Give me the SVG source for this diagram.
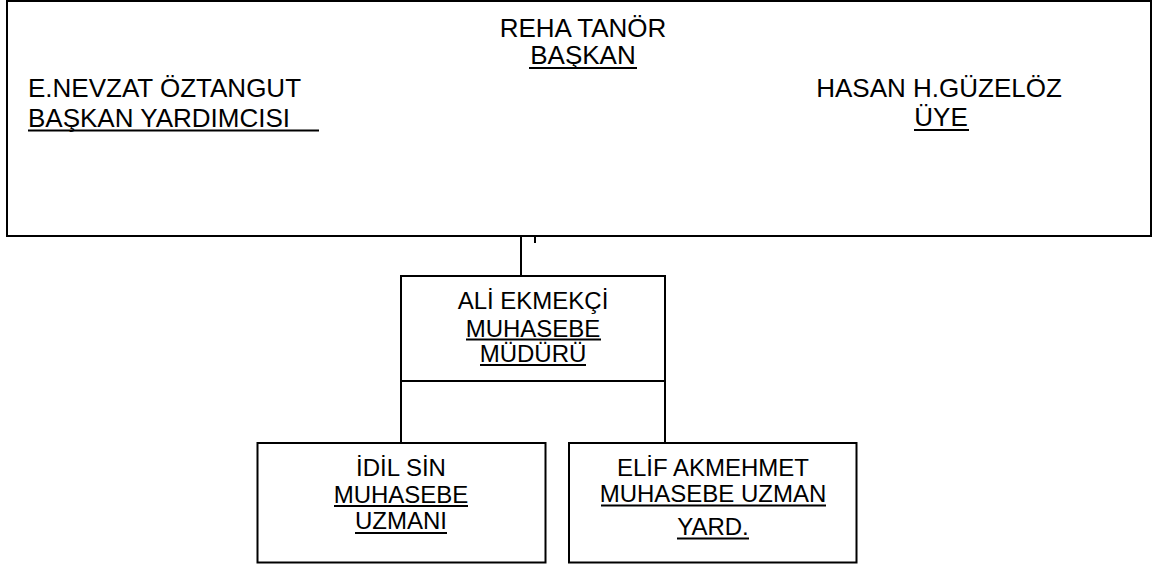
<svg xmlns="http://www.w3.org/2000/svg" width="1160" height="564" viewBox="0 0 1160 564">
<style>
.box{fill:#fff;stroke:#000;stroke-width:2}
.ln{stroke:#000;stroke-width:2;fill:none}
.ul{stroke:#000;stroke-width:2}
text{font-family:"Liberation Sans",Arial,sans-serif;fill:#000}
.t1{font-size:26px}
.t2{font-size:24px}
.c{text-anchor:middle}
</style>
<rect width="1160" height="564" fill="#fff"/>
<g id="connectors">
<line class="ln" x1="521" y1="236" x2="521" y2="276"/>
<line class="ln" x1="535" y1="237" x2="535" y2="243"/>
<line class="ln" x1="401" y1="381" x2="401" y2="443"/>
<line class="ln" x1="665" y1="381" x2="665" y2="443"/>
</g>
<g id="board">
<rect class="box" x="7" y="1" width="1144" height="235"/>
<text class="t1 c" x="583" y="36.5">REHA TANÖR</text>
<text class="t1 c" x="583" y="64">BAŞKAN</text>
<line class="ul" x1="529" y1="68" x2="637" y2="68"/>
<text class="t1" x="28" y="97">E.NEVZAT ÖZTANGUT</text>
<text class="t1" x="28" y="126.5">BAŞKAN YARDIMCISI</text>
<line class="ul" x1="28" y1="130.5" x2="319" y2="130.5"/>
<text class="t1 c" x="939" y="97">HASAN H.GÜZELÖZ</text>
<text class="t1 c" x="941" y="126">ÜYE</text>
<line class="ul" x1="914" y1="130" x2="969" y2="130"/>
</g>
<g id="ali">
<rect class="box" x="401" y="276" width="264" height="105"/>
<text class="t2 c" x="533" y="309">ALİ EKMEKÇİ</text>
<text class="t2 c" x="533" y="336.5">MUHASEBE</text>
<line class="ul" x1="466" y1="339.5" x2="601" y2="339.5"/>
<text class="t2 c" x="533" y="361.5">MÜDÜRÜ</text>
<line class="ul" x1="480" y1="365" x2="586" y2="365"/>
</g>
<g id="idil">
<rect class="box" x="257.5" y="443" width="288" height="119.5"/>
<text class="t2 c" x="401" y="476">İDİL SİN</text>
<text class="t2 c" x="401" y="502.5">MUHASEBE</text>
<line class="ul" x1="334" y1="506" x2="468" y2="506"/>
<text class="t2 c" x="401" y="529">UZMANI</text>
<line class="ul" x1="355" y1="533" x2="447" y2="533"/>
</g>
<g id="elif">
<rect class="box" x="569" y="443" width="287.5" height="119.5"/>
<text class="t2 c" x="713" y="476">ELİF AKMEHMET</text>
<text class="t2 c" x="713" y="502">MUHASEBE UZMAN</text>
<line class="ul" x1="601" y1="505.5" x2="826" y2="505.5"/>
<text class="t2 c" x="713" y="535">YARD.</text>
<line class="ul" x1="677" y1="538.5" x2="749" y2="538.5"/>
</g>
</svg>
